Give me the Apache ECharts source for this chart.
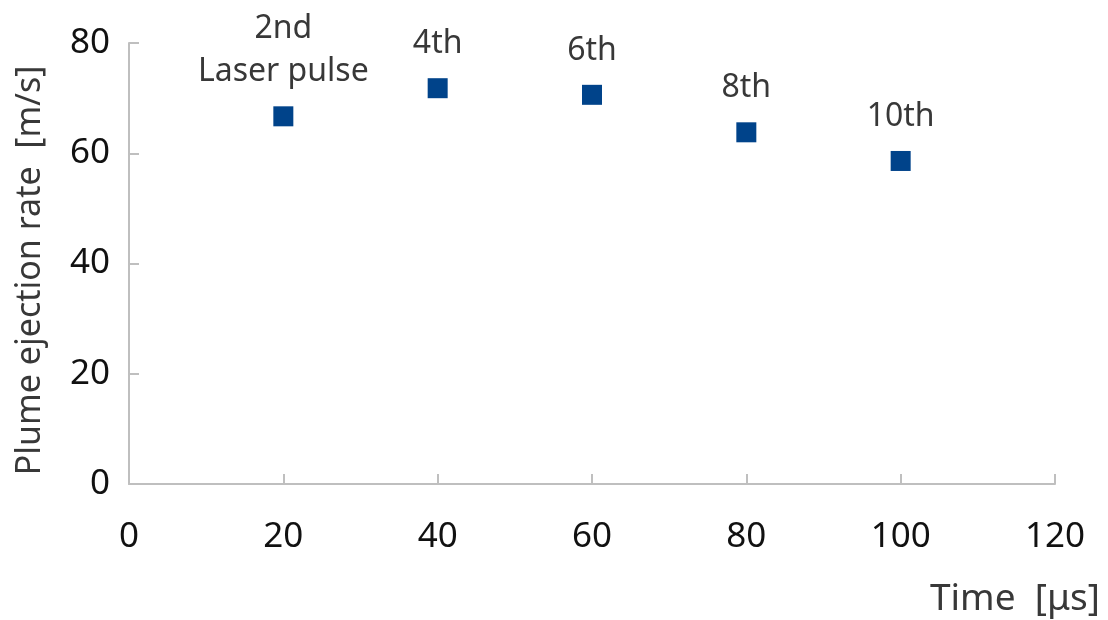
<!DOCTYPE html>
<html>
<head>
<meta charset="utf-8">
<script src="https://cdn.jsdelivr.net/npm/echarts@6/dist/echarts.min.js"></script>
<style>
  html, body { margin: 0; padding: 0; background: #ffffff; }
  #chart { width: 1108px; height: 620px; }
</style>
</head>
<body>
<div id="chart"></div>
<script>
// Plume ejection rate for successive laser pulses
const times = [20, 40, 60, 80, 100];            // µs
const rates = [66.7, 71.8, 70.6, 63.8, 58.6];   // m/s
const pulseLabels = ['2nd\nLaser pulse', '4th', '6th', '8th', '10th'];
const xTicks = [0, 20, 40, 60, 80, 100, 120];
const yTicks = [0, 20, 40, 60, 80];

const FONT = '"Noto Sans", "Open Sans", sans-serif';
const AXIS_GREY = '#bfbfbf';
const TEXT_GREY = '#383838';

const chart = echarts.init(document.getElementById('chart'), null, { renderer: 'canvas' });

// The two-line caption on the first pulse sits a little higher.
const points = times.map((t, i) => {
  const item = { value: [t, rates[i]], name: pulseLabels[i] };
  if (pulseLabels[i].indexOf('\n') >= 0) item.label = { distance: 13, lineHeight: 43 };
  return item;
});

chart.setOption({
  animation: false,
  backgroundColor: '#ffffff',
  grid: {
    left: 129, right: 53, top: 43, bottom: 136,
    containLabel: false,
    outerBoundsMode: 'none'
  },
  xAxis: {
    type: 'value',
    min: xTicks[0],
    max: xTicks[xTicks.length - 1],
    interval: 20,
    axisLine: { show: true, lineStyle: { color: AXIS_GREY, width: 2 } },
    axisTick: { show: true, inside: true, length: 10, lineStyle: { color: AXIS_GREY, width: 2 } },
    splitLine: { show: false },
    axisLabel: { color: '#111111', fontFamily: FONT, fontSize: 35, margin: 36 }
  },
  yAxis: {
    type: 'value',
    min: yTicks[0],
    max: yTicks[yTicks.length - 1],
    interval: 20,
    name: 'Plume ejection rate  [m/s]',
    nameLocation: 'middle',
    nameRotate: 90,
    nameGap: 82,
    nameTextStyle: { color: TEXT_GREY, fontFamily: FONT, fontSize: 34, padding: [0, 14, 0, 0] },
    axisLine: { show: true, lineStyle: { color: AXIS_GREY, width: 2 } },
    axisTick: { show: true, inside: true, length: 10, lineStyle: { color: AXIS_GREY, width: 2 } },
    splitLine: { show: false },
    axisLabel: { color: '#111111', fontFamily: FONT, fontSize: 35, margin: 19 }
  },
  graphic: [{
    type: 'text',
    right: 8,
    top: 581,
    style: {
      text: 'Time  [μs]',
      fill: TEXT_GREY,
      font: '37px ' + FONT
    }
  }],
  series: [{
    type: 'scatter',
    data: points,
    symbol: 'rect',
    symbolSize: 20,
    itemStyle: { color: '#00438a', opacity: 1 },
    label: {
      show: true,
      position: 'top',
      distance: 12,
      formatter: p => p.name,
      color: TEXT_GREY,
      fontFamily: FONT,
      fontSize: 32,
      lineHeight: 44,
      align: 'center'
    }
  }]
});
</script>
</body>
</html>
